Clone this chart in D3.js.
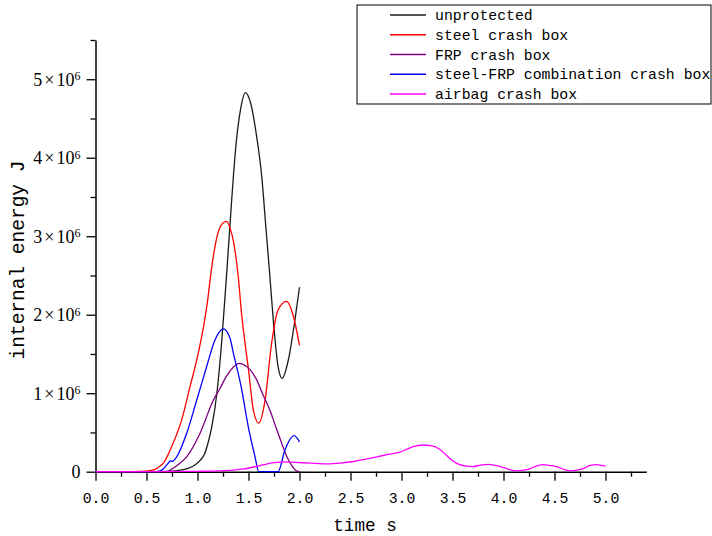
<!DOCTYPE html>
<html><head><meta charset="utf-8">
<script src="https://cdn.jsdelivr.net/npm/d3@7"></script>
<style>body{margin:0;background:#fff}svg{display:block}</style>
</head><body>
<svg id="c" width="712" height="536"></svg>
<script>
// ---- data (time in s, internal energy in J) ----
const seriesNames = ["unprotected","steel crash box","FRP crash box","steel-FRP combination crash box","airbag crash box"];
const seriesColors = ["#1a1a1a","#ff0000","#800080","#0000ff","#ff00ff"];

const tUnprotected = [0,0.5,0.7,0.8,0.9,0.975,1.03,1.07,1.1,1.14,1.19,1.24,1.29,1.335,1.38,1.42,1.47,1.52,1.58,1.63,1.67,1.71,1.745,1.79,1.83,1.89,1.955,2.0];
const vUnprotected = [0,0,0.005e6,0.015e6,0.04e6,0.085e6,0.15e6,0.23e6,0.35e6,0.57e6,1.0e6,1.7e6,2.6e6,3.46e6,4.2e6,4.6e6,4.83e6,4.7e6,4.27e6,3.76e6,3.12e6,2.48e6,1.9e6,1.34e6,1.19e6,1.42e6,1.93e6,2.35e6];

const tSteel = [0,0.3,0.45,0.567,0.62,0.665,0.747,0.845,0.926,1.008,1.07,1.1,1.14,1.2,1.25,1.286,1.32,1.35,1.4,1.433,1.46,1.5,1.547,1.6,1.662,1.727,1.79,1.874,1.94,2.0];
const vSteel = [0,0,0.005e6,0.02e6,0.06e6,0.11e6,0.32e6,0.66e6,1.08e6,1.51e6,1.93e6,2.19e6,2.61e6,3.04e6,3.17e6,3.19e6,3.1e6,2.95e6,2.48e6,2.0e6,1.7e6,1.3e6,0.79e6,0.62e6,0.91e6,1.64e6,2.06e6,2.17e6,1.98e6,1.61e6];

const tFRP = [0,0.7,0.73,0.8,0.894,1.025,1.155,1.22,1.286,1.35,1.41,1.47,1.515,1.58,1.645,1.711,1.76,1.826,1.88,1.923,1.97,2.0];
const vFRP = [0,0,0.02e6,0.08e6,0.19e6,0.49e6,0.91e6,1.06e6,1.22e6,1.33e6,1.38e6,1.35e6,1.3e6,1.17e6,0.97e6,0.78e6,0.6e6,0.36e6,0.18e6,0.08e6,0.01e6,0];

const tCombo = [0,0.6,0.65,0.714,0.735,0.75,0.796,0.894,0.992,1.09,1.172,1.253,1.319,1.35,1.433,1.498,1.564,1.6,1.79,1.858,1.946,2.0];
const vCombo = [0,0,0.02e6,0.11e6,0.14e6,0.13e6,0.19e6,0.49e6,0.91e6,1.34e6,1.68e6,1.82e6,1.7e6,1.52e6,1.05e6,0.57e6,0.19e6,0,0,0.28e6,0.46e6,0.38e6];

const tAirbag = [0,0.5,1.0,1.2,1.35,1.45,1.55,1.65,1.75,1.85,1.95,2.1,2.27,2.4,2.53,2.65,2.76,2.87,2.985,3.06,3.116,3.21,3.3,3.37,3.44,3.5,3.57,3.64,3.7,3.78,3.85,3.92,3.97,4.05,4.13,4.2,4.26,4.33,4.39,4.45,4.52,4.59,4.66,4.72,4.78,4.85,4.91,4.96,5.0];
const vAirbag = [0,0,0.005e6,0.01e6,0.02e6,0.035e6,0.06e6,0.09e6,0.115e6,0.125e6,0.12e6,0.11e6,0.1e6,0.11e6,0.13e6,0.16e6,0.19e6,0.22e6,0.25e6,0.29e6,0.32e6,0.34e6,0.33e6,0.29e6,0.21e6,0.14e6,0.09e6,0.07e6,0.065e6,0.085e6,0.094e6,0.08e6,0.065e6,0.03e6,0.01e6,0.02e6,0.04e6,0.075e6,0.09e6,0.08e6,0.065e6,0.03e6,0.01e6,0.02e6,0.04e6,0.08e6,0.09e6,0.08e6,0.07e6];

const xMajorTicks = [0,0.5,1.0,1.5,2.0,2.5,3.0,3.5,4.0,4.5,5.0];
const xTickLabels = ["0.0","0.5","1.0","1.5","2.0","2.5","3.0","3.5","4.0","4.5","5.0"];
const yMajorTicks = [0,1e6,2e6,3e6,4e6,5e6];
const yTickMantissa = ["0","1","2","3","4","5"];
const xTitle = "time s";
const yTitle = "internal energy J";

// ---- drawing ----
const svg = d3.select("#c");
const x = d3.scaleLinear().domain([0, 5.4]).range([95.5, 95.5 + 5.4*102]);
const y = d3.scaleLinear().domain([0, 5.5e6]).range([471.7, 40]);

const monoFont = "'Liberation Mono', 'DejaVu Sans Mono', monospace";
const serifFont = "'Liberation Serif', 'DejaVu Serif', serif";

const xMinor = d3.range(0.25, 5.4, 0.5);
const yMinor = d3.range(0.5e6, 5.6e6, 1e6);

const gx = svg.append("g").attr("transform", `translate(0,${y(0)})`);
gx.call(d3.axisBottom(x).tickValues(xMinor).tickSize(5).tickFormat(""));
gx.call(g => g.select(".domain").remove());
const gx2 = svg.append("g").attr("transform", `translate(0,${y(0)})`);
gx2.call(d3.axisBottom(x).tickValues(xMajorTicks).tickSize(9).tickSizeOuter(0)
  .tickFormat((d,i) => xTickLabels[i]));
gx2.selectAll("text").attr("y", 31).attr("dy", 0).attr("font-family", monoFont).attr("font-size", 14.8).attr("fill", "#000");
gx2.select(".domain").attr("stroke-width", 1.5);

const gy = svg.append("g").attr("transform", `translate(${x(0)},0)`);
gy.call(d3.axisLeft(y).tickValues(yMinor).tickSize(5).tickFormat(""));
gy.call(g => g.select(".domain").remove());
const gy2 = svg.append("g").attr("transform", `translate(${x(0)},0)`);
gy2.call(d3.axisLeft(y).tickValues(yMajorTicks).tickSize(9).tickSizeOuter(0).tickFormat(""));
gy2.select(".domain").attr("stroke-width", 1.5);
svg.selectAll(".tick line").attr("stroke", "#000").attr("stroke-width", 1.3);

gy2.selectAll(".tick").each(function(d, i) {
  const t = d3.select(this).append("text")
    .attr("x", -15).attr("y", 0).attr("dy", "0.34em")
    .attr("text-anchor", "end").attr("fill", "#000")
    .attr("font-family", serifFont).attr("font-size", 18);
  if (d === 0) { t.text(yTickMantissa[i]); }
  else {
    t.append("tspan").text(yTickMantissa[i]);
    t.append("tspan").attr("dx", 2).text("\u00d7");
    t.append("tspan").attr("dx", 2).text("10");
    t.append("tspan").attr("dy", "-0.45em").attr("font-size", 12).text("6");
  }
});

svg.append("text").attr("x", 365).attr("y", 531).attr("text-anchor", "middle")
  .attr("font-family", monoFont).attr("font-size", 17.7).attr("fill", "#000").text(xTitle);
svg.append("text").attr("transform", "translate(24,260) rotate(-90)").attr("text-anchor", "middle")
  .attr("font-family", monoFont).attr("font-size", 19.5).attr("fill", "#000").text(yTitle);

const tsAll = [tUnprotected, tSteel, tFRP, tCombo, tAirbag];
const vsAll = [vUnprotected, vSteel, vFRP, vCombo, vAirbag];
const line = d3.line().x(d => x(d[0])).y(d => y(d[1])).curve(d3.curveMonotoneX);
const plot = svg.append("g");
tsAll.forEach((ts, k) => {
  const pts = ts.map((t, i) => [t, vsAll[k][i]]);
  plot.append("path").attr("d", line(pts)).attr("fill", "none")
    .attr("stroke", seriesColors[k]).attr("stroke-width", 1.3);
});

const lg = svg.append("g");
lg.append("rect").attr("x", 357).attr("y", 5).attr("width", 354).attr("height", 99)
  .attr("fill", "#fff").attr("stroke", "#000").attr("stroke-width", 1);
const rowY = d3.scalePoint().domain(seriesNames).range([15, 94]);
seriesNames.forEach((n, k) => {
  lg.append("line").attr("x1", 390).attr("x2", 426).attr("y1", rowY(n)).attr("y2", rowY(n))
    .attr("stroke", seriesColors[k]).attr("stroke-width", 1.3);
  lg.append("text").attr("x", 435).attr("y", rowY(n)).attr("dy", "0.35em")
    .attr("font-family", monoFont).attr("font-size", 14.8).attr("fill", "#000").text(n);
});
</script>
</body></html>
